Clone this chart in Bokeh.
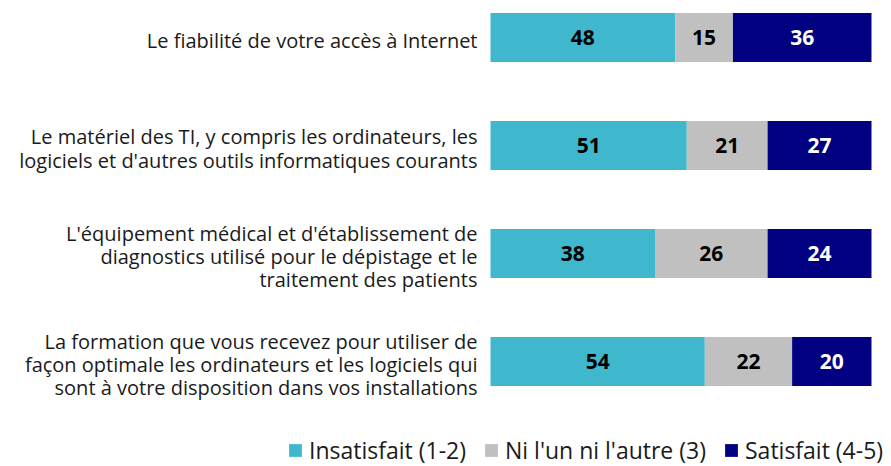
from bokeh.plotting import figure
from bokeh.models import ColumnDataSource, Range1d, Label, Legend, LegendItem, LabelSet
from bokeh.core.properties import value
from bokeh.embed import file_html
from bokeh.resources import INLINE

categories = [
    "Le fiabilité de votre accès à Internet",
    "Le matériel des TI, y compris les ordinateurs, les\nlogiciels et d'autres outils informatiques courants",
    "L'équipement médical et d'établissement de\ndiagnostics utilisé pour le dépistage et le\ntraitement des patients",
    "La formation que vous recevez pour utiliser de\nfaçon optimale les ordinateurs et les logiciels qui\nsont à votre disposition dans vos installations",
]
insatisfait = [48, 51, 38, 54]
neutre = [15, 21, 26, 22]
satisfait = [36, 27, 24, 20]
series_names = ["Insatisfait (1-2)", "Ni l'un ni l'autre (3)", "Satisfait (4-5)"]
colors = ["#3FB8CE", "#C0C0C0", "#000080"]
text_colors = ["black", "black", "white"]

FONT = "Open Sans"

n = len(categories)
ypos = [n - 1 - i for i in range(n)]

p = figure(width=891, height=466, output_backend="svg", toolbar_location=None,
           x_range=Range1d(-128.61, 105.25), y_range=Range1d(-0.972, 3.3426),
           min_border_left=0, min_border_right=0, min_border_top=0, min_border_bottom=0)
p.xaxis.visible = False
p.yaxis.visible = False
p.xgrid.visible = False
p.ygrid.visible = False
p.outline_line_color = None

series = [insatisfait, neutre, satisfait]
left = [0.0] * n
renderers = []
tot = [a + b + c for a, b, c in zip(insatisfait, neutre, satisfait)]
for s, col, tc in zip(series, colors, text_colors):
    w = [v / t * 100 for v, t in zip(s, tot)]
    right = [l + wi for l, wi in zip(left, w)]
    mid = [(l + r) / 2 for l, r in zip(left, right)]
    src = ColumnDataSource(dict(y=ypos, left=left, right=right, mid=mid, lab=[str(v) for v in s]))
    r = p.hbar(y="y", left="left", right="right", height=0.455, source=src,
               fill_color=col, line_color=None)
    renderers.append(r)
    ls = LabelSet(x="mid", y="y", text="lab", source=src, text_align="center",
                  text_baseline="middle", text_color=tc, text_font=value(FONT),
                  text_font_size="21px", text_font_style="bold")
    p.add_layout(ls)
    left = right

for cat, y in zip(categories, ypos):
    p.add_layout(Label(x=0, y=y, text=cat, x_offset=-13, y_offset=-3, text_align="right",
                       text_baseline="middle", text_font=FONT, text_font_size="20px",
                       text_color="#1a1a1a", text_line_height=0.87))

legend = Legend(items=[LegendItem(label=nm, renderers=[r]) for nm, r in zip(series_names, renderers)],
                orientation="horizontal", location=(287, 0),
                label_text_font=FONT, label_text_font_size="23px", label_text_color="#1a1a1a",
                glyph_width=16, glyph_height=16, spacing=17, padding=0, margin=0,
                label_standoff=6, border_line_color=None, background_fill_alpha=0)
p.add_layout(legend, "center")

open("out.html", "w").write(file_html(p, INLINE))
